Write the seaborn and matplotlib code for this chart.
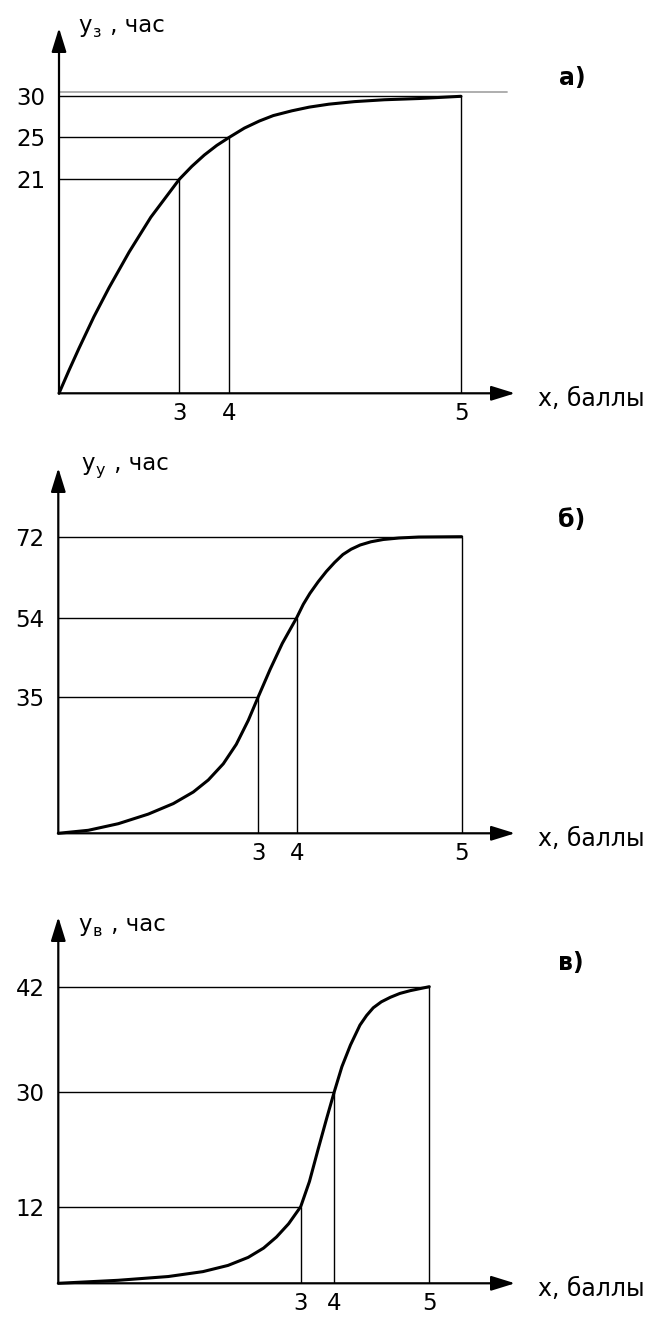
import numpy as np
import matplotlib
matplotlib.use("Agg")
import matplotlib.pyplot as plt
import seaborn as sns

# ---------------- data ----------------
score_ticks = [3, 4, 5]                     # x, баллы

# а) y_з
a_levels = [21, 25, 30]
a_score = [0, 0.25, 0.50, 0.87, 1.25, 1.75, 2.29, 3, 3.25, 3.50, 3.75, 4,
           4.065, 4.13, 4.19, 4.27, 4.345, 4.43, 4.54, 4.67, 4.82, 5]
a_hours = [0, 2.26, 4.43, 7.51, 10.38, 13.87, 17.28, 21, 22.23, 23.31, 24.23, 25,
           26.12, 26.99, 27.65, 28.23, 28.68, 29.04, 29.35, 29.58, 29.73, 30]
a_asymptote = 30.5

# б) y_у
b_levels = [35, 54, 72]
b_score = [0, 0.45, 0.90, 1.35, 1.725, 2.025, 2.25, 2.475, 2.67, 2.85, 3, 3.31, 3.625, 4,
           4.04, 4.08, 4.13, 4.18, 4.23, 4.28, 4.33, 4.385, 4.45, 4.525, 4.62, 4.74, 5]
b_hours = [0, 0.77, 2.46, 4.92, 7.61, 10.58, 13.66, 17.81, 22.8, 28.95, 35, 41.61, 47.82, 54,
           56.98, 59.4, 61.98, 64.29, 66.29, 68.04, 69.22, 70.16, 70.87, 71.38, 71.71, 71.93, 72]

# в) y_в
c_levels = [12, 30, 42]
c_score = [0, 0.74, 1.36, 1.79, 2.10, 2.35, 2.54, 2.70, 2.85, 3, 3.26, 3.52, 3.77, 4,
           4.08, 4.17, 4.27, 4.34, 4.41, 4.495, 4.59, 4.69, 4.80, 5]
c_hours = [0, 0.47, 1.06, 1.83, 2.80, 4.06, 5.51, 7.25, 9.32, 12, 15.94, 21.02, 25.77, 30,
           32.86, 35.33, 37.61, 38.71, 39.59, 40.27, 40.79, 41.23, 41.55, 42]

panel_tags = ["а)", "б)", "в)"]
y_subscripts = ["з", "у", "в"]
x_title = "x, баллы"
y_unit = " , час"

# ---------------- layout (pixels) ----------------
W, H = 653, 1317
layout = [
    dict(origin=(59.0, 393.3), xpix=[0, 120.3, 170.3, 402.0], ypix=[0, 214.0, 256.0, 297.0],
         tip=(515, 28), title=(78, 32), tag=(572, 78)),
    dict(origin=(58.3, 833.3), xpix=[0, 200.0, 238.4, 403.4], ypix=[0, 136.6, 215.6, 296.6],
         tip=(515, 468), title=(81, 470), tag=(572, 520)),
    dict(origin=(58.3, 1283.3), xpix=[0, 242.4, 276.0, 371.0], ypix=[0, 76.6, 191.6, 296.6],
         tip=(515, 917), title=(78, 931), tag=(571, 963)),
]

sns.set_theme(style="white")
plt.rcParams["font.family"] = ["DejaVu Sans"]
plt.rcParams["text.color"] = "black"
plt.rcParams["xtick.color"] = "black"
plt.rcParams["ytick.color"] = "black"
FS = 16.5


def piecewise(xp, fp):
    xp = np.asarray(xp, float)
    fp = np.asarray(fp, float)
    lo = (fp[1] - fp[0]) / (xp[1] - xp[0])
    hi = (fp[-1] - fp[-2]) / (xp[-1] - xp[-2])

    def f(v):
        v = np.asarray(v, float)
        out = np.interp(v, xp, fp)
        out = np.where(v < xp[0], fp[0] + (v - xp[0]) * lo, out)
        out = np.where(v > xp[-1], fp[-1] + (v - xp[-1]) * hi, out)
        return out
    return f


fig = plt.figure(figsize=(W / 100, H / 100), dpi=100)
fig.patch.set_facecolor("white")

series = [(a_score, a_hours, a_levels), (b_score, b_hours, b_levels), (c_score, c_hours, c_levels)]

for i, ((xs, ys, levels), lay) in enumerate(zip(series, layout)):
    ox, oy = lay["origin"]
    tx, ty = lay["tip"]
    ax = fig.add_axes([ox / W, 1 - oy / H, (tx - ox) / W, (oy - ty) / H])
    ax.set_facecolor("none")

    xvals = [0] + score_ticks
    yvals = [0] + levels
    fx, ix = piecewise(xvals, lay["xpix"]), piecewise(lay["xpix"], xvals)
    fy, iy = piecewise(yvals, lay["ypix"]), piecewise(lay["ypix"], yvals)
    ax.set_xscale("function", functions=(fx, ix))
    ax.set_yscale("function", functions=(fy, iy))
    ax.set_xlim(0, float(ix(tx - ox)))
    ax.set_ylim(0, float(iy(oy - ty)))

    # guide lines from each level to the curve
    for sx, lv in zip(score_ticks, levels):
        ax.plot([0, sx], [lv, lv], color="black", lw=1.0, solid_capstyle="butt", clip_on=False)
        ax.plot([sx, sx], [0, lv], color="black", lw=1.0, solid_capstyle="butt", clip_on=False)

    if i == 0:
        ax.plot([0, 5.2], [a_asymptote, a_asymptote], color="#a8a8a8", lw=1.3, clip_on=False)

    sns.lineplot(x=xs, y=ys, ax=ax, color="black", lw=2.2, sort=False,
                 estimator=None, legend=False)
    for ln in ax.lines:
        ln.set_clip_on(False)
        ln.set_solid_joinstyle("round")

    # axes with arrowheads
    arrow = dict(arrowstyle="-|>,head_length=1.45,head_width=0.45", mutation_scale=10,
                 lw=1.6, color="black", shrinkA=0, shrinkB=0)
    ax.annotate("", xy=(1, 0), xytext=(0, 0), xycoords="axes fraction", arrowprops=arrow)
    ax.annotate("", xy=(0, 1), xytext=(0, 0), xycoords="axes fraction", arrowprops=arrow)

    for s in ax.spines.values():
        s.set_visible(False)
    ax.grid(False)
    ax.set_xticks(score_ticks)
    ax.set_xticklabels([str(v) for v in score_ticks])
    ax.set_yticks(levels)
    ax.set_yticklabels([str(v) for v in levels])
    ax.minorticks_off()
    ax.tick_params(axis="x", length=0, pad=6.5, labelsize=FS, colors="black")
    ax.tick_params(axis="y", length=0, pad=10, labelsize=FS, colors="black")

    # axis titles
    fig.text(538 / W, 1 - (oy + 13) / H, x_title, fontsize=17, ha="left", va="baseline")
    tx0, tb = lay["title"]
    t1 = fig.text(tx0 / W, 1 - tb / H, "y", fontsize=FS, ha="left", va="baseline")
    t2 = ax.annotate(y_subscripts[i], xy=(1, 0), xycoords=t1, xytext=(0.5, 0),
                     textcoords="offset points", fontsize=11.5, ha="left", va="baseline",
                     annotation_clip=False)
    ax.annotate(y_unit, xy=(1, 0), xycoords=(t2, t1), xytext=(1.5, 0),
                textcoords="offset points", fontsize=FS, ha="left", va="bottom",
                annotation_clip=False)

    fig.text(lay["tag"][0] / W, 1 - lay["tag"][1] / H, panel_tags[i], fontsize=17,
             fontweight="bold", ha="center", va="center")

fig.savefig("out.png", dpi=100, facecolor="white")
